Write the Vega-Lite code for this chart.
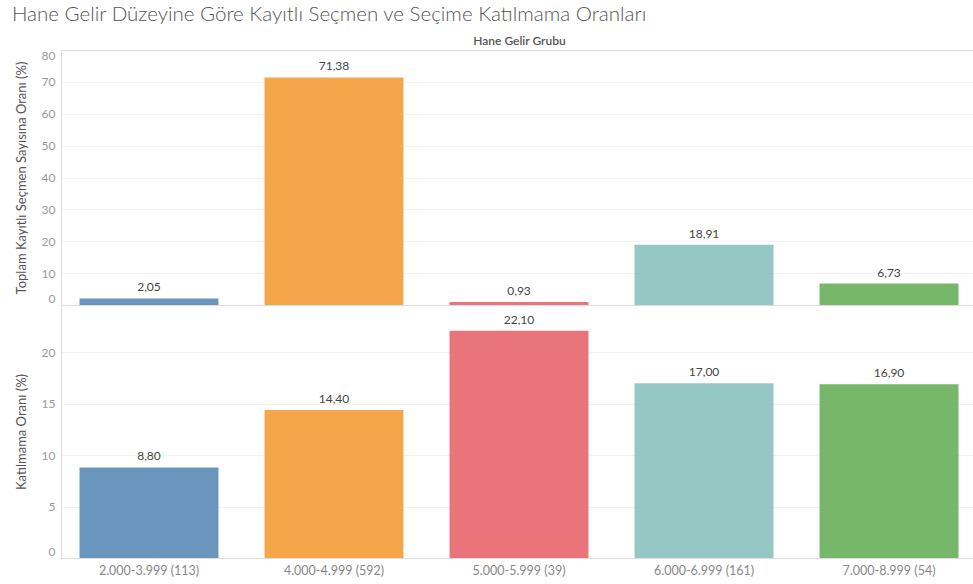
{
  "$schema": "https://vega.github.io/schema/vega-lite/v6.json",
  "padding": {"left": 11, "right": 0, "top": 4, "bottom": 0},
  "title": {"text": "Hane Gelir Düzeyine Göre Kayıtlı Seçmen ve Seçime Katılmama Oranları", "anchor": "start", "dx": -3, "fontSize": 20.5, "font": "Lato", "fontWeight": 300, "color": "#555555", "offset": 9},
  "data": {"values": [
    {"grup": "2.000-3.999 (113)", "kayitli": 2.05, "katilmama": 8.80},
    {"grup": "4.000-4.999 (592)", "kayitli": 71.38, "katilmama": 14.40},
    {"grup": "5.000-5.999 (39)", "kayitli": 0.93, "katilmama": 22.10},
    {"grup": "6.000-6.999 (161)", "kayitli": 18.91, "katilmama": 17.00},
    {"grup": "7.000-8.999 (54)", "kayitli": 6.73, "katilmama": 16.90}
  ]},
  "spacing": 0,
  "vconcat": [
    {
      "width": 916,
      "height": 255,
      "encoding": {
        "y": {"field": "kayitli", "type": "quantitative", "scale": {"domain": [0, 80], "nice": false},
              "axis": {"title": "Toplam Kayıtlı Seçmen Sayısına Oranı (%)", "tickCount": 8, "labelOverlap": false, "labelFlush": true, "ticks": false, "domainColor": "#dddddd", "gridColor": "#f2f2f2", "labelColor": "#999999", "labelFontSize": 12, "labelFont": "Lato", "labelPadding": 6, "minExtent": 25, "maxExtent": 25, "titlePadding": 8, "titleFontSize": 13, "titleFontWeight": "normal", "titleColor": "#555555", "titleFont": "Lato"}}
      },
      "layer": [
        {
          "mark": {"type": "bar"},
          "encoding": {
            "x": {"field": "grup", "type": "nominal", "sort": null, "scale": {"paddingInner": 0.249, "paddingOuter": 0.1},
                  "axis": {"orient": "top", "title": "Hane Gelir Grubu", "labels": false, "ticks": false, "domain": true, "domainColor": "#dddddd", "titlePadding": 3, "minExtent": 0, "maxExtent": 0, "titleFontSize": 12, "titleFontWeight": 600, "titleColor": "#555555", "titleFont": "Lato"}},
            "color": {"field": "grup", "type": "nominal", "sort": null, "legend": null,
                      "scale": {"range": ["#6a95bc", "#f5a64a", "#e9747a", "#95c8c4", "#76b76a"]}}
          }
        },
        {
          "mark": {"type": "text", "baseline": "bottom", "dy": -4, "fontSize": 12, "font": "Lato", "color": "#444444"},
          "encoding": {
            "x": {"field": "grup", "type": "nominal", "sort": null,
                  "axis": {"orient": "bottom", "title": null, "labels": false, "ticks": false, "domain": true, "domainColor": "#dddddd", "minExtent": 0, "maxExtent": 0}},
            "text": {"field": "kayitli", "type": "quantitative", "format": ".2f"}
          }
        }
      ],
      "resolve": {"axis": {"x": "independent"}}
    },
    {
      "width": 916,
      "height": 253,
      "encoding": {
        "x": {"field": "grup", "type": "nominal", "sort": null, "scale": {"paddingInner": 0.249, "paddingOuter": 0.1},
              "axis": {"orient": "bottom", "title": null, "labelAngle": 0, "labelOverlap": false, "ticks": false, "domain": true, "domainColor": "#dddddd", "labelColor": "#888888", "labelFontSize": 12.5, "labelFont": "Lato", "labelPadding": 6}},
        "y": {"field": "katilmama", "type": "quantitative", "scale": {"domain": [0, 24.6], "nice": false},
              "axis": {"title": "Katılmama Oranı (%)", "tickCount": 5, "labelOverlap": false, "labelFlush": true, "ticks": false, "domainColor": "#dddddd", "gridColor": "#f2f2f2", "labelColor": "#999999", "labelFontSize": 12, "labelFont": "Lato", "labelPadding": 6, "minExtent": 25, "maxExtent": 25, "titlePadding": 8, "titleFontSize": 13, "titleFontWeight": "normal", "titleColor": "#555555", "titleFont": "Lato"}}
      },
      "layer": [
        {
          "mark": {"type": "bar"},
          "encoding": {
            "color": {"field": "grup", "type": "nominal", "sort": null, "legend": null,
                      "scale": {"range": ["#6a95bc", "#f5a64a", "#e9747a", "#95c8c4", "#76b76a"]}}
          }
        },
        {
          "mark": {"type": "text", "baseline": "bottom", "dy": -4, "fontSize": 12, "font": "Lato", "color": "#444444"},
          "encoding": {
            "text": {"field": "katilmama", "type": "quantitative", "format": ".2f"}
          }
        }
      ]
    }
  ],
  "config": {
    "view": {"stroke": null},
    "locale": {"number": {"decimal": ",", "thousands": ".", "grouping": [3], "currency": ["", ""]}}
  }
}
